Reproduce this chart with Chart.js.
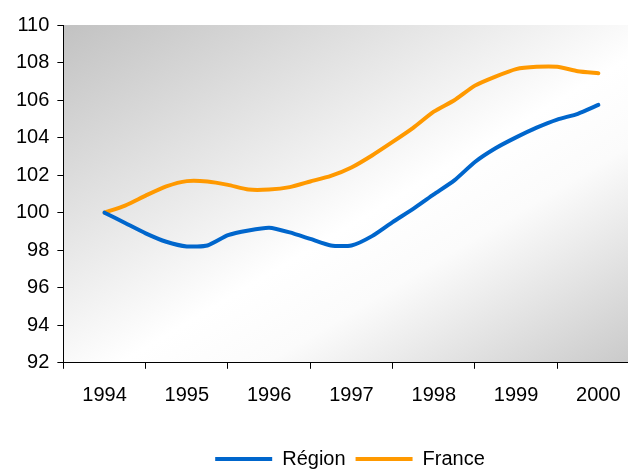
<!DOCTYPE html>
<html>
<head>
<meta charset="utf-8">
<script src="https://cdn.jsdelivr.net/npm/chart.js@4"></script>
<style>
html,body{margin:0;padding:0;background:#fff;}
#wrap{width:628px;height:469px;overflow:hidden;}
</style>
</head>
<body>
<div id="wrap"><canvas id="c" width="628" height="469"></canvas></div>
<script>
// quarterly periods (decimal years)
const periods = [1994.00,1994.25,1994.50,1994.75,1995.00,1995.25,1995.50,1995.75,1996.00,1996.25,1996.50,1996.75,1997.00,1997.25,1997.50,1997.75,1998.00,1998.25,1998.50,1998.75,1999.00,1999.25,1999.50,1999.75,2000.00];
const regionValues = [100.0,99.45,98.9,98.45,98.2,98.25,98.8,99.05,99.2,98.95,98.6,98.25,98.25,98.75,99.5,100.2,100.97,101.72,102.7,103.43,104.01,104.53,104.96,105.27,105.74];
const franceValues = [100.0,100.38,100.91,101.4,101.68,101.66,101.48,101.23,101.23,101.36,101.66,101.96,102.41,103.05,103.77,104.52,105.38,105.99,106.77,107.25,107.65,107.77,107.77,107.54,107.43];
const yearLabels = [1994,1995,1996,1997,1998,1999,2000];
const seriesNames = ['Région','France'];

const FONT = 'Liberation Sans, Arial, sans-serif';

const bgPlugin = {
  id: 'bgGrad',
  beforeDraw(chart) {
    const {ctx, chartArea: a} = chart;
    ctx.save();
    ctx.translate(a.left, a.top);
    ctx.scale(a.right - a.left, a.bottom - a.top);
    const g = ctx.createLinearGradient(0, 0, 1, 1);
    g.addColorStop(0, '#c2c2c2');
    g.addColorStop(0.55, '#ffffff');
    g.addColorStop(0.68, '#fbfbfb');
    g.addColorStop(1, '#cacaca');
    ctx.fillStyle = g;
    ctx.fillRect(0, 0, 1, 1);
    ctx.restore();
  }
};

const legendShift = {
  id: 'legendShift',
  afterLayout(chart) {
    const l = chart.legend;
    if (l) { l.left += 32; l.right += 32; }
  }
};

const mk = (arr) => periods.map((p, i) => ({x: p, y: arr[i]}));

new Chart(document.getElementById('c'), {
  type: 'line',
  data: {
    datasets: [
      {label: seriesNames[0], data: mk(regionValues), borderColor: '#0066cc', backgroundColor: '#0066cc', borderWidth: 4, pointRadius: 0, tension: 0.2, borderCapStyle: 'round'},
      {label: seriesNames[1], data: mk(franceValues), borderColor: '#ff9900', backgroundColor: '#ff9900', borderWidth: 4, pointRadius: 0, tension: 0.2, borderCapStyle: 'round'}
    ]
  },
  options: {
    responsive: false,
    animation: false,
    layout: {padding: {left: 8, right: 0, top: 25, bottom: -10}},
    plugins: {
      tooltip: {enabled: false},
      legend: {
        position: 'bottom',
        labels: {
          usePointStyle: true,
          pointStyle: 'line',
          pointStyleWidth: 57,
          boxHeight: 4,
          padding: 10,
          color: '#000',
          font: {family: FONT, size: 20}
        }
      }
    },
    scales: {
      x: {
        type: 'linear',
        min: 1993.5,
        max: 2000.36,
        afterBuildTicks(scale) {
          const t = [];
          yearLabels.forEach(y => { t.push({value: y - 0.5}); t.push({value: y}); });
          scale.ticks = t;
        },
        afterFit(scale) { scale.paddingRight = 0; },
        border: {display: true, color: '#000', width: 1},
        grid: {
          drawOnChartArea: false,
          drawTicks: true,
          tickLength: 6,
          tickColor: (ctx) => (ctx.tick && Number.isInteger(ctx.tick.value)) ? 'rgba(0,0,0,0)' : '#000'
        },
        title: {display: true, text: ' ', font: {size: 1}, padding: {top: 0, bottom: 15}},
        ticks: {
          autoSkip: false,
          maxRotation: 0,
          padding: 15,
          color: '#000',
          font: {family: FONT, size: 20},
          callback: (v) => Number.isInteger(v) && yearLabels.includes(v) ? String(v) : ''
        }
      },
      y: {
        min: 92,
        max: 110,
        border: {display: true, color: '#000', width: 1},
        grid: {drawOnChartArea: false, drawTicks: true, tickLength: 6, tickColor: '#000'},
        ticks: {stepSize: 2, padding: 8, color: '#000', font: {family: FONT, size: 20}}
      }
    }
  },
  plugins: [bgPlugin, legendShift]
});
</script>
</body>
</html>
